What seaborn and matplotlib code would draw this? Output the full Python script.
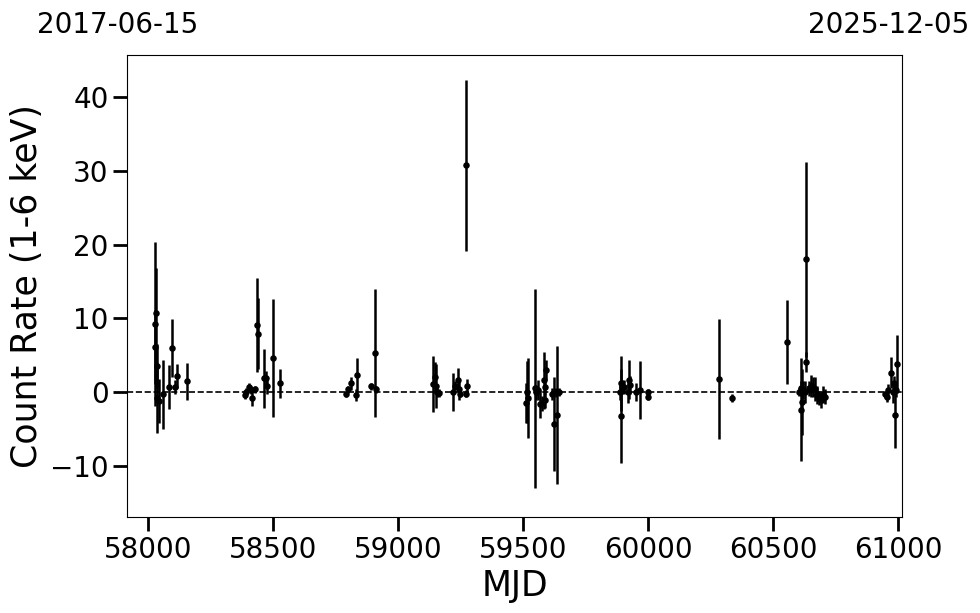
import numpy as np
import matplotlib
matplotlib.use('Agg')
import matplotlib.pyplot as plt
import pandas as pd
import seaborn as sns

#  light curve values
mjd = [58028, 58032, 58028, 58036, 58036, 58044, 58060, 58084, 58096, 58108, 58116, 58156,
       58391, 58395, 58407, 58415, 58419, 58431, 58439, 58443, 58467, 58475, 58479, 58503, 58530,
       58794, 58802, 58814, 58834, 58838, 58893, 58909, 58913,
       59141, 59149, 59153, 59157, 59165, 59221, 59229, 59241, 59245, 59249, 59272, 59276, 59272,
       59512, 59516, 59520, 59548, 59552, 59560, 59568, 59576, 59584, 59588, 59592, 59588,
       59615, 59623, 59631, 59635, 59643,
       59887, 59891, 59891, 59895, 59903, 59919, 59923, 59927, 59951, 59970, 60002, 60002,
       60286, 60334, 60557,
       60605, 60613, 60617, 60613, 60621, 60629, 60633, 60633, 60645, 60653, 60661, 60669,
       60677, 60685, 60693, 60701, 60709,
       60948, 60956, 60960, 60972, 60980, 60984, 60988, 60992, 60996]
rate = [9.2, 10.7, 6.1, 3.5, -0.8, -1.2, -0.3, 0.7, 6.0, 0.7, 2.2, 1.5,
        -0.4, 0.0, 0.7, 0.3, -0.8, 0.4, 9.1, 7.9, 1.9, 1.9, 0.8, 4.6, 1.2,
        -0.2, 0.4, 1.2, -0.4, 2.3, 0.8, 5.3, 0.4,
        1.1, 2.0, 0.8, 0.0, -0.1, 0.0, 0.9, 1.7, 0.4, -0.2, -0.2, 0.8, 30.8,
        -1.5, 0.0, -0.8, 0.5, 0.0, 0.3, -1.6, -1.5, 1.6, 0.7, 3.0, -1.1,
        -0.2, -4.3, 0.0, -3.1, 0.0,
        0.0, -3.2, 1.2, 0.7, 0.7, 0.0, 1.7, 1.0, 0.0, 0.3, 0.0, -0.7,
        1.8, -0.8, 6.8,
        0.0, -2.4, -1.3, 0.5, 0.3, 0.0, 18.0, 4.1, 0.5, 0.8, 0.7, 0.4,
        -0.4, -0.8, -1.1, -0.3, -0.6,
        -0.3, -0.6, 0.3, 2.6, 0.0, 1.2, -3.1, 0.3, 3.8]
rate_err = [11.1, 6.2, 5.0, 3.0, 4.7, 3.0, 4.7, 3.0, 3.9, 1.0, 1.6, 2.5,
            0.5, 0.5, 0.6, 0.5, 1.1, 0.5, 6.4, 4.8, 4.0, 1.0, 1.0, 8.0, 2.0,
            0.4, 0.5, 0.9, 0.8, 2.3, 0.5, 8.7, 0.5,
            3.8, 2.1, 3.0, 0.6, 0.5, 2.6, 0.6, 1.6, 1.5, 0.5, 0.5, 1.0, 11.6,
            2.7, 4.2, 5.4, 13.5, 1.0, 1.3, 1.9, 1.0, 3.9, 1.0, 1.4, 1.0,
            0.8, 6.4, 0.6, 9.3, 0.5,
            1.0, 6.4, 3.7, 1.0, 1.0, 1.5, 2.6, 1.2, 1.2, 3.9, 0.4, 0.4,
            8.1, 0.6, 5.7,
            0.5, 7.0, 4.5, 1.0, 1.2, 1.5, 13.2, 1.4, 1.0, 1.5, 1.3, 1.6,
            1.2, 1.0, 1.0, 1.2, 1.0,
            0.5, 0.7, 0.8, 2.1, 1.5, 1.0, 4.5, 1.0, 3.9]

#  plot range and the calendar dates of its ends
mjd_start = 57919
mjd_end = 61014
date_labels = ['2017-06-15', '2025-12-05']

df = pd.DataFrame({'MJD': mjd, 'rate': rate, 'err': rate_err})

fig, ax = plt.subplots(figsize=(9.8, 6.13), dpi=100)
fig.subplots_adjust(left=0.13, right=0.92, top=0.91, bottom=0.157)

#  error bars first, then points on top
ax.errorbar(df['MJD'], df['rate'], yerr=df['err'], fmt='none',
            ecolor='black', elinewidth=1.8, capsize=0, zorder=2)
sns.scatterplot(data=df, x='MJD', y='rate', ax=ax, color='black',
                s=22, edgecolor='black', linewidth=0, zorder=3)
ax.axhline(0, color='black', linestyle='--', linewidth=1.2, zorder=1)

ax.set_xlim(mjd_start, mjd_end)
ax.set_ylim(-16.9, 45.7)
ax.set_xticks([58000, 58500, 59000, 59500, 60000, 60500, 61000])
ax.set_yticks([-10, 0, 10, 20, 30, 40])
ax.tick_params(axis='both', labelsize=20, length=10, width=2)
ax.set_xlabel('MJD', fontsize=25)
ax.set_ylabel('Count Rate (1-6 keV)', fontsize=25)

#  dates at the two ends of the axis
ax.text(-0.012, 1.048, date_labels[0], transform=ax.transAxes,
        ha='center', va='baseline', fontsize=20)
ax.text(0.983, 1.048, date_labels[1], transform=ax.transAxes,
        ha='center', va='baseline', fontsize=20)

fig.savefig('out.png', dpi=100)
